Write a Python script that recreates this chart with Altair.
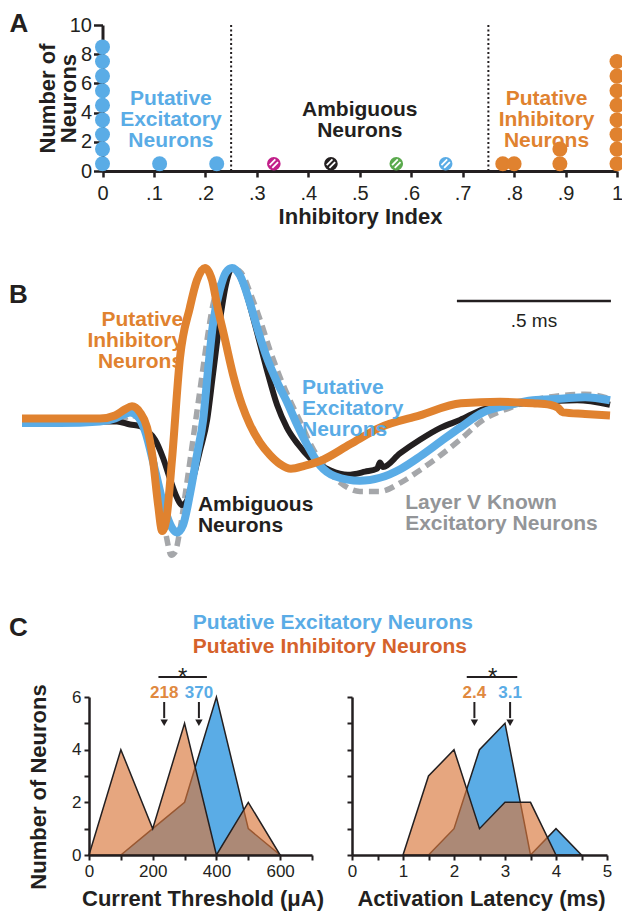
import altair as alt
import pandas as pd

FONT = "Liberation Sans"
BLUE = "#5AACE6"
ORANGE = "#E0822F"
BLACK = "#231F20"
GRAY = "#A5A7AA"
ORANGE_FILL = "#D9773A"
ORANGE_TXT = "#D5622B"
ORANGE_NUM = "#E0893F"
AMB_COLORS = ["#C2208A", "#231F20", "#5BAA4E", "#5AACE6"]

W, H = 614, 904


def px(v):
    # page pixel -> plot coordinate (page has an 8px margin)
    return v - 8


# ---------------- Panel A data ----------------
exc_index = [0, 0, 0, 0, 0, 0, 0, 0, 0, 0.111, 0.222]
exc_count = [0.5, 1.5, 2.5, 3.5, 4.5, 5.5, 6.5, 7.5, 8.5, 0.5, 0.5]
amb_index = [0.333, 0.444, 0.571, 0.667]
amb_count = [0.5, 0.5, 0.5, 0.5]
amb_cell = ["cell 1", "cell 2", "cell 3", "cell 4"]
inh_index = [0.778, 0.8, 0.889, 0.889, 1, 1, 1, 1, 1, 1, 1, 1]
inh_count = [0.5, 0.5, 0.5, 1.5, 0.5, 1.5, 2.5, 3.5, 4.5, 5.5, 6.5, 7.5]
cutoffs = [0.25, 0.75]
index_ticks = [0, 0.1, 0.2, 0.3, 0.4, 0.5, 0.6, 0.7, 0.8, 0.9, 1.0]
count_ticks = [0, 2, 4, 6, 8, 10]

# ---------------- Panel B data (time in ms, normalised amplitude) ----------------
inh_t = [0, 0.123, 0.253, 0.302, 0.334, 0.357, 0.383, 0.406, 0.425, 0.442,
         0.455, 0.468, 0.487, 0.513, 0.545, 0.568, 0.594, 0.617, 0.633, 0.659,
         0.685, 0.714, 0.740, 0.773, 0.805, 0.838, 0.873, 0.919, 0.968, 1.065,
         1.162, 1.292, 1.425, 1.552, 1.659, 1.714, 1.740, 1.756, 1.828, 1.909]
inh_v = [0.01, 0.01, 0.01, 0.03, 0.07, 0.09, 0.05, -0.05, -0.26, -0.56,
         -0.73, -0.66, -0.26, 0.41, 0.74, 0.92, 1.00, 0.92, 0.76, 0.53,
         0.30, 0.10, -0.03, -0.15, -0.23, -0.29, -0.32, -0.30, -0.27, -0.16,
         -0.05, 0.03, 0.11, 0.12, 0.11, 0.10, 0.08, 0.05, 0.04, 0.03]

exc_t = [0, 0.123, 0.253, 0.302, 0.334, 0.351, 0.373, 0.399, 0.432, 0.464,
         0.487, 0.503, 0.523, 0.545, 0.568, 0.588, 0.604, 0.620, 0.643, 0.662,
         0.682, 0.708, 0.740, 0.766, 0.795, 0.828, 0.860, 0.893, 0.925, 0.968,
         1.016, 1.097, 1.162, 1.231, 1.292, 1.360, 1.422, 1.497, 1.584, 1.659,
         1.747, 1.828, 1.909]
exc_v = [-0.02, -0.02, -0.01, 0.01, 0.04, 0.05, 0.03, -0.07, -0.33, -0.59,
         -0.71, -0.74, -0.69, -0.49, -0.23, 0.00, 0.33, 0.63, 0.86, 0.97,
         1.00, 0.95, 0.77, 0.59, 0.41, 0.25, 0.12, -0.03, -0.16, -0.30,
         -0.37, -0.40, -0.38, -0.32, -0.24, -0.14, -0.05, 0.05, 0.10, 0.13,
         0.14, 0.15, 0.13]

amb_t = [0, 0.123, 0.253, 0.308, 0.351, 0.383, 0.406, 0.432, 0.458, 0.481,
         0.503, 0.519, 0.536, 0.555, 0.578, 0.601, 0.620, 0.643, 0.662, 0.682,
         0.701, 0.724, 0.756, 0.795, 0.828, 0.860, 0.896, 0.935, 1.000, 1.058,
         1.114, 1.153, 1.162, 1.172, 1.227, 1.292, 1.360, 1.422, 1.497, 1.584,
         1.682, 1.802, 1.909]
amb_v = [-0.01, -0.01, -0.01, -0.01, -0.03, -0.04, -0.07, -0.13, -0.25, -0.39,
         -0.51, -0.56, -0.53, -0.39, -0.20, 0.00, 0.30, 0.66, 0.89, 1.00,
         0.97, 0.86, 0.63, 0.33, 0.10, -0.05, -0.16, -0.25, -0.33, -0.36,
         -0.34, -0.32, -0.28, -0.31, -0.22, -0.13, -0.05, 0.00, 0.07, 0.10,
         0.12, 0.13, 0.10]

known_t = [0, 0.253, 0.318, 0.357, 0.383, 0.409, 0.432, 0.455, 0.471, 0.484,
           0.497, 0.513, 0.532, 0.555, 0.578, 0.601, 0.620, 0.643, 0.669, 0.695,
           0.718, 0.740, 0.773, 0.805, 0.838, 0.870, 0.903, 0.942, 0.984, 1.032,
           1.097, 1.162, 1.231, 1.292, 1.360, 1.422, 1.497, 1.584, 1.659, 1.747,
           1.828, 1.909]
known_v = [-0.01, -0.01, 0.00, 0.03, 0.00, -0.10, -0.30, -0.59, -0.79, -0.89,
           -0.87, -0.72, -0.46, -0.13, 0.20, 0.53, 0.76, 0.90, 0.97, 0.99,
           0.95, 0.84, 0.66, 0.46, 0.28, 0.13, -0.01, -0.18, -0.31, -0.41,
           -0.47, -0.47, -0.41, -0.33, -0.23, -0.13, 0.00, 0.08, 0.13, 0.16,
           0.17, 0.14]
scale_bar_ms = [1.412, 1.912]

# ---------------- Panel C data ----------------
thr_bins = [0, 100, 200, 300, 400, 500, 600]
thr_exc = [0, 0, 1, 2, 6, 1, 0]
thr_inh = [0, 4, 1, 5, 0, 2, 0]
thr_mean_labels = ["218", "370"]
thr_mean_pos = [236, 345]
thr_ticks = [0, 100, 200, 300, 400, 500, 600, 700]

lat_bins = [1.0, 1.5, 2.0, 2.5, 3.0, 3.5, 4.0, 4.5]
lat_exc = [0, 0, 1, 4, 5, 0, 1, 0]
lat_inh = [0, 3, 4, 1, 2, 2, 0, 0]
lat_mean_labels = ["2.4", "3.1"]
lat_mean_pos = [2.4, 3.1]
lat_ticks = [0, 0.5, 1, 1.5, 2, 2.5, 3, 3.5, 4, 4.5, 5]
n_ticks = [0, 1, 2, 3, 4, 5, 6]
groups = ["inh", "exc"]


def make_axis(orient, offset, values, expr=None, size=5, fs=19, pad=3,
              labels=True, title=None, tx=None, ty=None, dw=2.5, tw=2, tfs=22):
    kw = dict(orient=orient, offset=offset, values=values, grid=False,
              domainColor=BLACK, domainWidth=dw,
              tickColor=BLACK, tickWidth=tw, tickSize=size, labels=labels,
              labelFont=FONT, labelFontSize=fs, labelColor=BLACK,
              labelPadding=pad, labelFlush=False, labelOverlap=False)
    if expr is not None:
        kw["labelExpr"] = expr
    if title is None:
        kw["title"] = None
    else:
        kw.update(title=title, titleFont=FONT, titleFontSize=tfs,
                  titleFontWeight="bold", titleColor=BLACK, titleX=tx,
                  titleY=ty, titleAlign="center", titleBaseline="middle",
                  titleLineHeight=21)
        if orient == "left":
            kw["titleAngle"] = 270
    return alt.Axis(**kw)


def pos(field, sx, sy, xax=None, yax=None, yfield="y"):
    return dict(x=alt.X(f"{field}:Q", scale=sx, axis=xax),
                y=alt.Y(f"{yfield}:Q", scale=sy, axis=yax))


def text_layer(df, sx, sy, color, align="center", fs=21, weight="bold", lh=21,
               baseline="middle"):
    return alt.Chart(df).mark_text(
        font=FONT, fontSize=fs, fontWeight=weight, color=color, align=align,
        baseline=baseline, lineBreak="\n", lineHeight=lh
    ).encode(text="label:N", **pos("x", sx, sy))


layers = []

# =============== Panel A ===============
sxA = alt.Scale(domain=[0, 1], range=[px(102.5), px(617)], nice=False, zero=False)
syA = alt.Scale(domain=[0, 10], range=[px(171), px(25)], nice=False, zero=False)

axAx = make_axis("bottom", px(171) - H, index_ticks,
                 expr="datum.value == 0 ? '0' : datum.value == 1 ? '1' : replace(format(datum.value, '.1f'), '0.', '.')",
                 size=6, fs=20, pad=6, title="Inhibitory Index",
                 tx=px(360), ty=45, dw=3, tw=2.5)
axAy = make_axis("left", -px(102.5), count_ticks, size=9, fs=20, pad=2,
                 title=["Number of", "Neurons"], tx=47 - 102.5, ty=px(98),
                 dw=3, tw=2.5)

dfCut = pd.DataFrame({"x": cutoffs, "lo": [0] * len(cutoffs), "hi": [10] * len(cutoffs)})
layers.append(alt.Chart(dfCut).mark_rule(color=BLACK, strokeWidth=2, strokeDash=[2, 2.5]).encode(
    x=alt.X("x:Q", scale=sxA, axis=axAx),
    y=alt.Y("lo:Q", scale=syA, axis=axAy),
    y2="hi:Q"))

dfExc = pd.DataFrame({"idx": exc_index, "n": exc_count})
dfInh = pd.DataFrame({"idx": inh_index, "n": inh_count})
dfAmb = pd.DataFrame({"idx": amb_index, "n": amb_count, "cell": amb_cell})

layers.append(alt.Chart(dfExc).mark_circle(size=225, color=BLUE, opacity=1).encode(
    **pos("idx", sxA, syA, yfield="n")))
layers.append(alt.Chart(dfInh).mark_circle(size=225, color=ORANGE, opacity=1).encode(
    **pos("idx", sxA, syA, yfield="n")))
layers.append(alt.Chart(dfAmb).mark_circle(size=185, opacity=1).encode(
    color=alt.Color("cell:N", scale=alt.Scale(domain=amb_cell, range=AMB_COLORS), legend=None),
    **pos("idx", sxA, syA, yfield="n")))
HATCH = "M-0.62,0.22L0.22,-0.62M-0.22,0.62L0.62,-0.22"
layers.append(alt.Chart(dfAmb).mark_point(shape=HATCH, size=185, filled=False, color="white",
                                          strokeWidth=1.8, opacity=1).encode(
    **pos("idx", sxA, syA, yfield="n")))

layers.append(text_layer(pd.DataFrame({"x": [0.133], "y": [4.90], "label": ["Putative\nExcitatory\nNeurons"]}),
                         sxA, syA, BLUE))
layers.append(text_layer(pd.DataFrame({"x": [0.5], "y": [4.21], "label": ["Ambiguous\nNeurons"]}),
                         sxA, syA, BLACK))
layers.append(text_layer(pd.DataFrame({"x": [0.863], "y": [4.90], "label": ["Putative\nInhibitory\nNeurons"]}),
                         sxA, syA, ORANGE))
layers.append(text_layer(pd.DataFrame({"x": [-0.181], "y": [10.07], "label": ["A"]}),
                         sxA, syA, BLACK, align="left", fs=26))

# =============== Panel B ===============
sxB = alt.Scale(domain=[0, 1.909], range=[px(22), px(610)], nice=False, zero=False)
syB = alt.Scale(domain=[-1, 1], range=[px(572), px(268)], nice=False, zero=False)


def wave(t, v, color, width, dash=None):
    kw = dict(color=color, strokeWidth=width, interpolate="monotone")
    if dash is not None:
        kw["strokeDash"] = dash
    return alt.Chart(pd.DataFrame({"t": t, "v": v})).mark_line(**kw).encode(
        **pos("t", sxB, syB, yfield="v"))


layers.append(wave(known_t, known_v, GRAY, 5.5, dash=[10, 6]))
layers.append(wave(amb_t, amb_v, BLACK, 6))
layers.append(wave(exc_t, exc_v, BLUE, 8))
layers.append(wave(inh_t, inh_v, ORANGE, 8))

dfBar = pd.DataFrame({"t0": [scale_bar_ms[0]], "t1": [scale_bar_ms[1]], "y": [0.783]})
layers.append(alt.Chart(dfBar).mark_rule(color=BLACK, strokeWidth=2.5).encode(
    x2="t1:Q", **pos("t0", sxB, syB)))
layers.append(text_layer(pd.DataFrame({"x": [1.662], "y": [0.651], "label": [".5 ms"]}),
                         sxB, syB, BLACK, fs=19, weight="normal"))
layers.append(text_layer(pd.DataFrame({"x": [0.523], "y": [0.658], "label": ["Putative\nInhibitory\nNeurons"]}),
                         sxB, syB, ORANGE, align="right"))
layers.append(text_layer(pd.DataFrame({"x": [0.909], "y": [0.211], "label": ["Putative\nExcitatory\nNeurons"]}),
                         sxB, syB, BLUE, align="left"))
layers.append(text_layer(pd.DataFrame({"x": [0.571], "y": [-0.556], "label": ["Ambiguous\nNeurons"]}),
                         sxB, syB, BLACK, align="left"))
layers.append(text_layer(pd.DataFrame({"x": [1.244], "y": [-0.543], "label": ["Layer V Known\nExcitatory Neurons"]}),
                         sxB, syB, "#939598", align="left"))
layers.append(text_layer(pd.DataFrame({"x": [-0.042], "y": [0.822], "label": ["B"]}),
                         sxB, syB, BLACK, align="left", fs=26))

# =============== Panel C ===============
syC = alt.Scale(domain=[0, 6], range=[px(855), px(697)], nice=False, zero=False)


def hist_panel(bins, exc, inh, sx, axx, axy, mean_pos, mean_labels, bracket, star_x):
    out = []
    dfh = pd.DataFrame({"b": bins, "exc": exc, "inh": inh})
    out.append(alt.Chart(dfh).mark_area(fill=BLUE, fillOpacity=1, stroke=BLACK, strokeWidth=1.5,
                                        opacity=1).encode(
        x=alt.X("b:Q", scale=sx, axis=axx), y=alt.Y("exc:Q", scale=syC, axis=axy)))
    out.append(alt.Chart(dfh).mark_area(fill=ORANGE_FILL, fillOpacity=0.65, stroke=BLACK,
                                        strokeWidth=1.5, strokeOpacity=1, opacity=1).encode(
        **pos("b", sx, syC, yfield="inh")))
    dfm = pd.DataFrame({"x": mean_pos, "label": mean_labels, "g": groups,
                        "top": [5.81] * 2, "bot": [5.2] * 2, "head": [5.02] * 2, "y": [6.15] * 2})
    out.append(alt.Chart(dfm).mark_rule(color=BLACK, strokeWidth=2).encode(
        y2="bot:Q", **pos("x", sx, syC, yfield="top")))
    out.append(alt.Chart(dfm).mark_point(shape="triangle-down", size=55, filled=True, color=BLACK,
                                         opacity=1).encode(**pos("x", sx, syC, yfield="head")))
    out.append(alt.Chart(dfm).mark_text(font=FONT, fontSize=17, fontWeight="bold").encode(
        text="label:N",
        color=alt.Color("g:N", scale=alt.Scale(domain=groups, range=[ORANGE_NUM, BLUE]), legend=None),
        **pos("x", sx, syC)))
    dfb = pd.DataFrame({"x0": [bracket[0]], "x1": [bracket[1]], "y": [6.76]})
    out.append(alt.Chart(dfb).mark_rule(color=BLACK, strokeWidth=2).encode(
        x2="x1:Q", **pos("x0", sx, syC)))
    out.append(text_layer(pd.DataFrame({"x": [star_x], "y": [6.45], "label": ["*"]}),
                          sx, syC, BLACK, fs=24, weight="normal", baseline="alphabetic"))
    return out


sxC1 = alt.Scale(domain=[0, 700], range=[px(89), px(312)], nice=False, zero=False)
sxC2 = alt.Scale(domain=[0, 5], range=[px(352), px(607)], nice=False, zero=False)

axC1x = make_axis("bottom", px(855) - H, thr_ticks,
                  expr="datum.value % 200 == 0 && datum.value < 700 ? format(datum.value, 'd') : ''",
                  size=5, fs=17, pad=3, title="Current Threshold (μA)", tx=px(202.5), ty=43)
axC1y = make_axis("left", -px(89), n_ticks,
                  expr="datum.value % 2 == 0 ? format(datum.value, 'd') : ''",
                  size=5, fs=17, pad=3, title="Number of Neurons", tx=38 - 89, ty=px(786.5))
axC2x = make_axis("bottom", px(855) - H, lat_ticks,
                  expr="datum.value % 1 == 0 ? format(datum.value, 'd') : ''",
                  size=5, fs=17, pad=3, title="Activation Latency (ms)", tx=px(481), ty=43)
axC2y = make_axis("left", -px(352), n_ticks, size=5, labels=False)

layers += hist_panel(thr_bins, thr_exc, thr_inh, sxC1, axC1x, axC1y,
                     thr_mean_pos, thr_mean_labels, [218, 370], 294)
layers += hist_panel(lat_bins, lat_exc, lat_inh, sxC2, axC2x, axC2y,
                     lat_mean_pos, lat_mean_labels, [2.25, 3.24], 2.76)

layers.append(text_layer(pd.DataFrame({"x": [326], "y": [8.81], "label": ["Putative Excitatory Neurons"]}),
                         sxC1, syC, BLUE, align="left", fs=21))
layers.append(text_layer(pd.DataFrame({"x": [326], "y": [7.90], "label": ["Putative Inhibitory Neurons"]}),
                         sxC1, syC, ORANGE_TXT, align="left", fs=21))
layers.append(text_layer(pd.DataFrame({"x": [-251], "y": [8.62], "label": ["C"]}),
                         sxC1, syC, BLACK, align="left", fs=26))

chart = alt.layer(*layers).resolve_scale(
    x="independent", y="independent", color="independent"
).resolve_axis(x="independent", y="independent").properties(
    width=W, height=H, padding=0, autosize=alt.AutoSizeParams(type="none")
).configure_view(strokeWidth=0)

chart.save("out.html", embed_options={"renderer": "svg", "actions": False})
